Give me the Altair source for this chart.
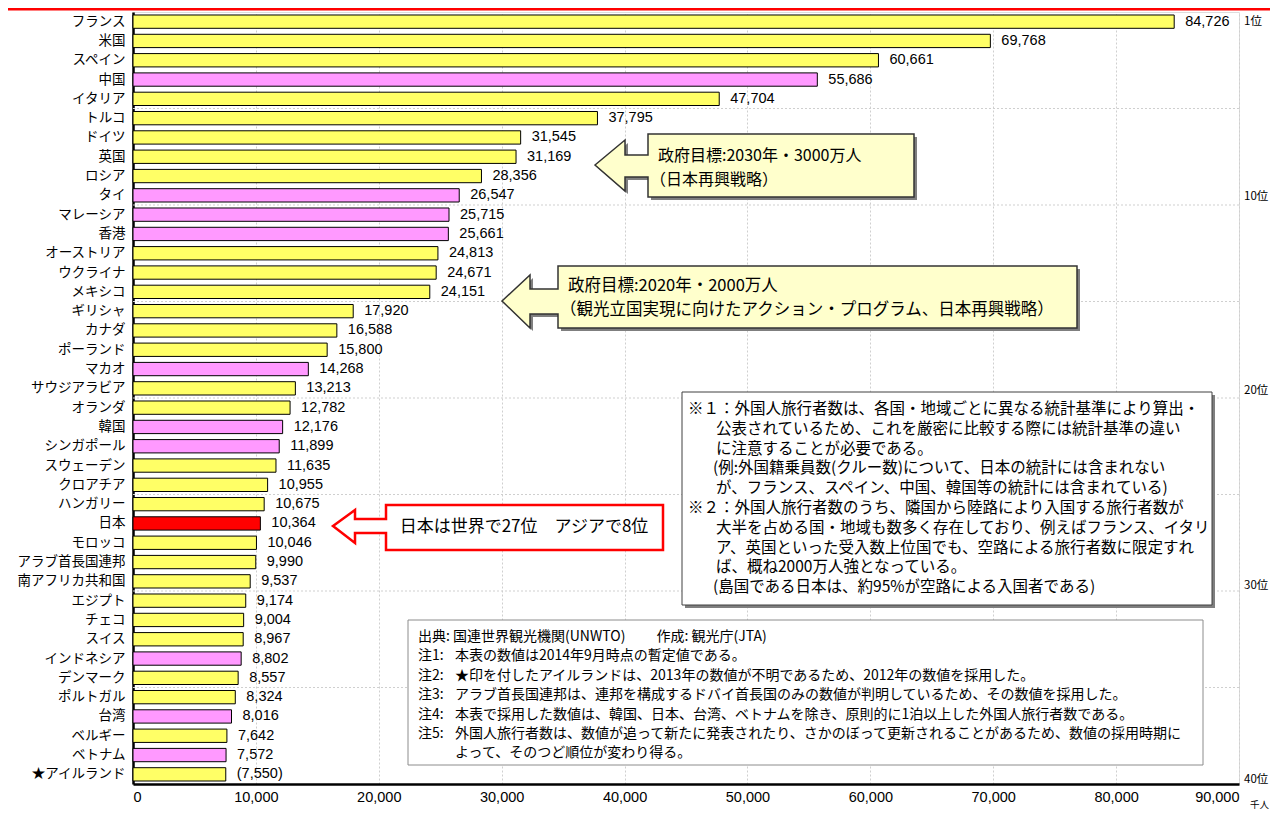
import altair as alt
import pandas as pd

# ---------------- data ----------------
countries = ["フランス", "米国", "スペイン", "中国", "イタリア", "トルコ", "ドイツ", "英国", "ロシア", "タイ",
             "マレーシア", "香港", "オーストリア", "ウクライナ", "メキシコ", "ギリシャ", "カナダ", "ポーランド", "マカオ", "サウジアラビア",
             "オランダ", "韓国", "シンガポール", "スウェーデン", "クロアチア", "ハンガリー", "日本", "モロッコ", "アラブ首長国連邦", "南アフリカ共和国",
             "エジプト", "チェコ", "スイス", "インドネシア", "デンマーク", "ポルトガル", "台湾", "ベルギー", "ベトナム", "★アイルランド"]
values = [84726, 69768, 60661, 55686, 47704, 37795, 31545, 31169, 28356, 26547,
          25715, 25661, 24813, 24671, 24151, 17920, 16588, 15800, 14268, 13213,
          12782, 12176, 11899, 11635, 10955, 10675, 10364, 10046, 9990, 9537,
          9174, 9004, 8967, 8802, 8557, 8324, 8016, 7642, 7572, 7550]
asia = ["中国", "タイ", "マレーシア", "香港", "マカオ", "韓国", "シンガポール", "インドネシア", "台湾", "ベトナム"]
japan = "日本"
estimated = ["★アイルランド"]
x_ticks = [0, 10000, 20000, 30000, 40000, 50000, 60000, 70000, 80000, 90000]
rank_marks = [1, 10, 20, 30, 40]

callout1_a = "政府目標:2030年・3000万人"
callout1_b = "（日本再興戦略）"
callout2_a = "政府目標:2020年・2000万人"
callout2_b = "（観光立国実現に向けたアクション・プログラム、日本再興戦略）"
callout3 = "日本は世界で27位　アジアで8位"
note1_head = "※１：外国人旅行者数は、各国・地域ごとに異なる統計基準により算出・"
note1_body_a = ["公表されているため、これを厳密に比較する際には統計基準の違い",
                "に注意することが必要である。"]
note1_body_b = ["(例:外国籍乗員数(クルー数)について、日本の統計には含まれない"]
note1_body_c = ["が、フランス、スペイン、中国、韓国等の統計には含まれている)"]
note2_head = "※２：外国人旅行者数のうち、隣国から陸路により入国する旅行者数が"
note2_body_a = ["大半を占める国・地域も数多く存在しており、例えばフランス、イタリ",
                "ア、英国といった受入数上位国でも、空路による旅行者数に限定すれ",
                "ば、概ね2000万人強となっている。"]
note2_body_b = ["(島国である日本は、約95%が空路による入国者である)"]
source_line = "出典: 国連世界観光機関(UNWTO)　　 作成: 観光庁(JTA)"
note_keys = ["注1:", "注2:", "注3:", "注4:", "注5:"]
note_texts = ["本表の数値は2014年9月時点の暫定値である。",
              "★印を付したアイルランドは、2013年の数値が不明であるため、2012年の数値を採用した。",
              "アラブ首長国連邦は、連邦を構成するドバイ首長国のみの数値が判明しているため、その数値を採用した。",
              "本表で採用した数値は、韓国、日本、台湾、ベトナムを除き、原則的に1泊以上した外国人旅行者数である。",
              "外国人旅行者数は、数値が追って新たに発表されたり、さかのぼって更新されることがあるため、数値の採用時期に",
              "よって、そのつど順位が変わり得る。"]
unit_label = "千人"

# ---------------- layout ----------------
W, H = 1106, 772
JP = "Noto Sans CJK JP"
NUM = "Liberation Sans"

df = pd.DataFrame({"country": countries, "value": values, "rank": list(range(1, len(countries) + 1))})
df["group"] = ["日本" if c == japan else ("アジア" if c in asia else "その他") for c in countries]
df["est"] = [c in estimated for c in countries]

yscale = alt.Scale(domain=countries, paddingInner=0.31, paddingOuter=0.155)
xscale = alt.Scale(domain=[0, 90000], nice=False)

y_axis = alt.Axis(title=None, ticks=False, labelFont=JP, labelFontSize=13.5, labelColor="black",
                  labelPadding=8, domainColor="black", domainWidth=2.5, grid=False)
x_axis = alt.Axis(title=None, values=x_ticks, labelExpr="format(datum.value, ',')", ticks=False,
                  labelFont=NUM, labelFontSize=14.5, labelColor="black", labelPadding=6,
                  domainColor="black", domainWidth=2.5,
                  grid=True, gridColor="#CFCFCF", gridDash=[2, 2], gridWidth=1)

base = alt.Chart(df)

bars = base.mark_bar(stroke="black", strokeWidth=1).encode(
    x=alt.X("value:Q", scale=xscale, axis=x_axis),
    y=alt.Y("country:N", scale=yscale, axis=y_axis, sort=None),
    color=alt.Color("group:N", scale=alt.Scale(domain=["その他", "アジア", "日本"],
                                               range=["#FFFF66", "#FF99FF", "#FF0000"]), legend=None),
)

labels = base.transform_calculate(
    label="datum.est ? '(' + format(datum.value, ',') + ')' : format(datum.value, ',')"
).mark_text(align="left", baseline="middle", dx=11, font=NUM, fontSize=14.5, color="black").encode(
    x=alt.X("value:Q", scale=xscale, axis=x_axis),
    y=alt.Y("country:N", scale=yscale, axis=y_axis, sort=None),
    text="label:N",
)

hgrid = base.transform_filter("datum.rank % 5 == 0 && datum.rank < 40").mark_rule(
    color="#CFCFCF", strokeDash=[2, 2], strokeWidth=1, yOffset=9.65
).encode(
    y=alt.Y("country:N", scale=yscale, axis=y_axis, sort=None),
    x=alt.value(0), x2=alt.value(W),
)

main = alt.layer(hgrid, bars, labels)

rank_df = pd.DataFrame({"rank": rank_marks, "label": [f"{r}位" for r in rank_marks]})
ranks = alt.Chart(rank_df).mark_text(align="left", baseline="middle", font=JP, fontSize=11.5, color="black").encode(
    x=alt.value(W + 5),
    y=alt.Y("rank:Q", scale=alt.Scale(domain=[0.486, 40.2], nice=False, zero=False, reverse=True), axis=None),
    text="label:N",
)

dummy = pd.DataFrame({"a": [0]})


def shape(path, fill, stroke, sw, dx=0, dy=0):
    return alt.Chart(dummy).mark_point(shape=path, size=4, filled=True, fill=fill, stroke=stroke,
                                       strokeWidth=sw, opacity=1, fillOpacity=1, strokeOpacity=1).encode(
        x=alt.value(dx), y=alt.value(dy))


def text_block(lines, x, y, size, lh=20, align="left", baseline="top", font=JP):
    return alt.Chart(dummy).mark_text(text=lines, align=align, baseline=baseline, font=font, fontSize=size,
                                      lineHeight=lh, color="black").encode(x=alt.value(x), y=alt.value(y))


def box(x1, y1, x2, y2, stroke, fill="white", sw=1):
    return alt.Chart(dummy).mark_rect(fill=fill, stroke=stroke, strokeWidth=sw, opacity=1).encode(
        x=alt.value(x1), x2=alt.value(x2), y=alt.value(y1), y2=alt.value(y2))


p1 = "M462,153 L492,128 L492,143 L515,143 L515,122 L781,122 L781,185 L515,185 L515,165 L492,165 L492,179 Z"
p2 = "M369,289 L397,263 L397,277 L425,277 L425,254 L944,254 L944,316 L425,316 L425,302 L397,302 L397,316 Z"
p3 = "M200,514 L222,498 L222,507 L253,507 L253,493 L530,493 L530,538 L253,538 L253,521 L222,521 L222,531 Z"

annotations = [
    alt.Chart(dummy).mark_rule(color="#FF0000", strokeWidth=3).encode(
        x=alt.value(-125), x2=alt.value(W + 31), y=alt.value(-3)),
    shape(p1, "#7F7F7F", "#7F7F7F", 0, 3, 3),
    shape(p1, "#FFFFCC", "#333333", 1.5),
    text_block(callout1_a, 525, 135.5, 16),
    text_block(callout1_b, 517, 160, 16),
    shape(p2, "#7F7F7F", "#7F7F7F", 0, 3, 3),
    shape(p2, "#FFFFCC", "#333333", 1.5),
    text_block(callout2_a, 435, 266, 16.5),
    text_block(callout2_b, 427, 290, 16.5),
    shape(p3, "white", "#FF0000", 2.5),
    text_block(callout3, 391, 515, 17, 20, align="center", baseline="middle"),
    box(552, 383, 1082, 596, "#7F7F7F", "#7F7F7F", 0),
    box(549, 380, 1079, 593, "#404040", "white", 1),
    text_block(note1_head, 555, 390, 15.5, 19.8),
    text_block(note1_body_a, 583, 409.8, 15.5, 19.8),
    text_block(note1_body_b, 580, 449.4, 15.5, 19.8),
    text_block(note1_body_c, 583, 469.2, 15.5, 19.8),
    text_block(note2_head, 555, 489, 15.5, 19.8),
    text_block(note2_body_a, 583, 508.8, 15.5, 19.8),
    text_block(note2_body_b, 580, 568.2, 15.5, 19.8),
    box(275, 608, 1070, 753, "#8C8C8C", "white", 1),
    text_block(source_line, 285, 618, 14, 19.4),
    text_block(note_keys, 285, 637.4, 14, 19.4),
    text_block(note_texts, 322, 637.4, 14, 19.4),
    text_block(unit_label, 1136, 793, 9.5, 11, align="right", baseline="middle"),
]

chart = alt.layer(main, ranks, *annotations).resolve_scale(y="independent").properties(
    width=W, height=H,
    autosize=alt.AutoSizeParams(type="none"),
    padding={"left": 125, "top": 4, "right": 31, "bottom": 26},
).configure_view(stroke="black", strokeWidth=1).configure(background="white")

chart.save("out.html", embed_options={"renderer": "svg", "actions": False})
